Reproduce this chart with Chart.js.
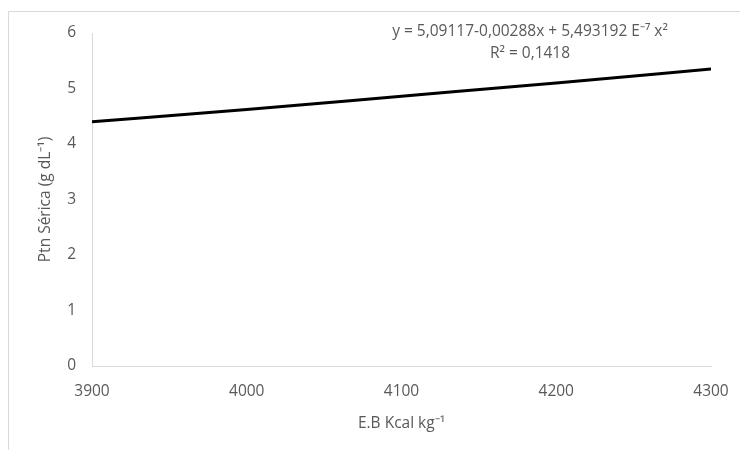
<!DOCTYPE html>
<html>
<head>
<meta charset="utf-8">
<script src="https://cdn.jsdelivr.net/npm/chart.js@4.4.0/dist/chart.umd.min.js"></script>
<style>
  body { margin: 0; background: #fff; }
  #wrap { width: 740px; height: 450px; }
</style>
</head>
<body>
<div id="wrap"><canvas id="chart" width="740" height="450"></canvas></div>
<script>
// values
const energia = [3900, 4000, 4100, 4200, 4300];
const ptnSerica = [4.40, 4.62, 4.86, 5.10, 5.35];
const xTicks = [3900, 4000, 4100, 4200, 4300];
const yTicks = [0, 1, 2, 3, 4, 5, 6];

const textColor = '#595959';
const axisColor = '#d9d9d9';
const fontFamily = "'Open Sans', sans-serif";

// equation label and outer frame
const extras = {
  id: 'extras',
  afterDraw(chart) {
    const ctx = chart.ctx;
    ctx.save();
    ctx.strokeStyle = axisColor;
    ctx.lineWidth = 1;
    ctx.beginPath();
    ctx.moveTo(8.5, 450);
    ctx.lineTo(8.5, 11.5);
    ctx.lineTo(740, 11.5);
    ctx.stroke();

    ctx.fillStyle = textColor;
    ctx.font = '15.5px ' + fontFamily;
    ctx.textAlign = 'center';
    ctx.textBaseline = 'middle';
    ctx.fillText('y = 5,09117-0,00288x + 5,493192 E\u207B\u2077 x\u00B2', 530, 32);
    ctx.fillText('R\u00B2 = 0,1418', 530, 54);
    ctx.restore();
  }
};

new Chart(document.getElementById('chart'), {
  type: 'line',
  data: {
    datasets: [{
      data: energia.map((x, i) => ({ x: x, y: ptnSerica[i] })),
      borderColor: '#000',
      borderWidth: 3,
      pointRadius: 0,
      cubicInterpolationMode: 'monotone',
      fill: false
    }]
  },
  options: {
    responsive: false,
    animation: false,
    layout: { padding: { top: 33, right: 29, left: 0, bottom: 0 } },
    plugins: { legend: { display: false }, tooltip: { enabled: false } },
    scales: {
      x: {
        type: 'linear',
        min: 3900,
        max: 4300,
        afterBuildTicks: s => { s.ticks = xTicks.map(v => ({ value: v })); },
        afterFit: s => { s.height = 84; s.paddingRight = 0; },
        grid: { display: false, drawTicks: false },
        border: { color: axisColor, width: 1 },
        ticks: {
          color: textColor,
          font: { family: fontFamily, size: 15.5 },
          padding: 16,
          callback: v => String(v)
        },
        title: {
          display: true,
          text: 'E.B Kcal kg\u207B\u00B9',
          color: textColor,
          font: { family: fontFamily, size: 15.5 },
          padding: { top: 0, bottom: 17 }
        }
      },
      y: {
        min: 0,
        max: 6,
        afterBuildTicks: s => { s.ticks = yTicks.map(v => ({ value: v })); },
        afterFit: s => { s.width = 92; },
        grid: { display: false, drawTicks: false },
        border: { color: axisColor, width: 1 },
        ticks: { color: textColor, font: { family: fontFamily, size: 15.5 }, padding: 16 },
        title: {
          display: true,
          text: 'Ptn S\u00E9rica (g dL\u207B\u00B9)',
          color: textColor,
          font: { family: fontFamily, size: 15.5 },
          padding: { top: 36, bottom: 0 }
        }
      }
    }
  },
  plugins: [extras]
});
</script>
</body>
</html>
